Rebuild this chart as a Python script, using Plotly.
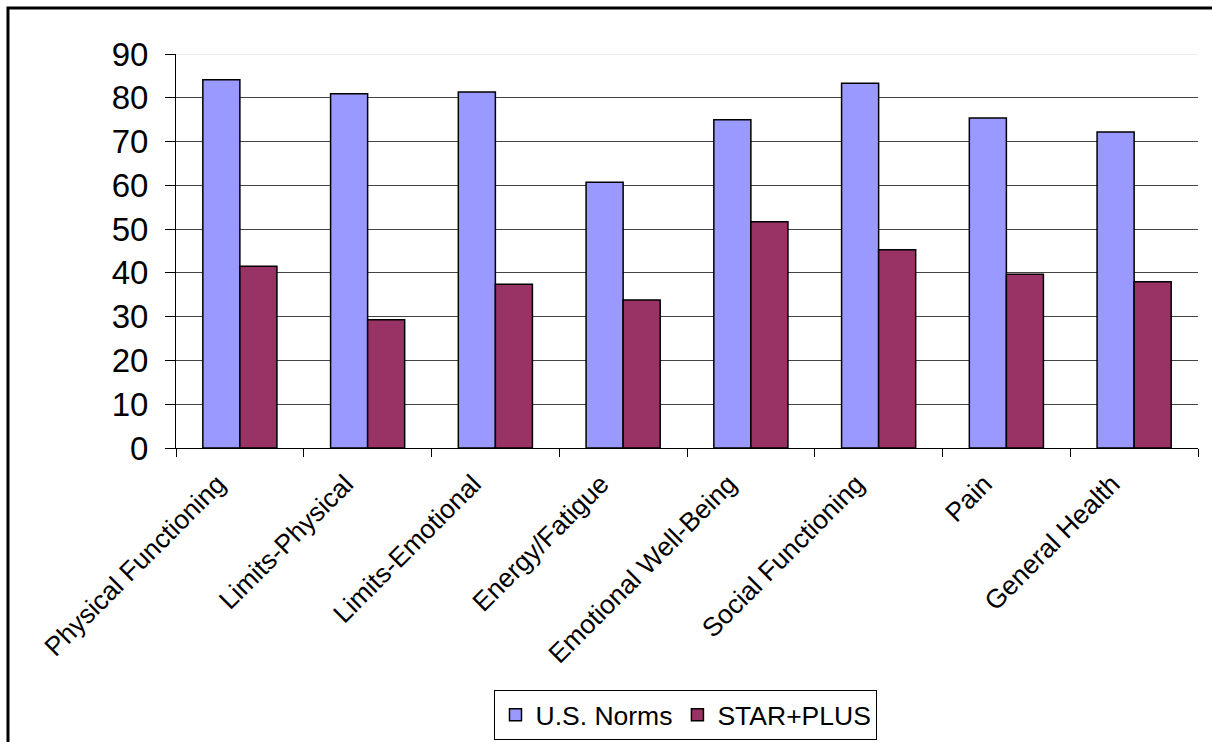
import plotly.graph_objects as go

categories = ["Physical Functioning", "Limits-Physical", "Limits-Emotional", "Energy/Fatigue",
              "Emotional Well-Being", "Social Functioning", "Pain", "General Health"]
us_norms = [84.1, 80.9, 81.3, 60.7, 75.0, 83.3, 75.4, 72.2]
star_plus = [41.5, 29.3, 37.4, 33.8, 51.7, 45.3, 39.7, 38.0]
y_ticks = [0, 10, 20, 30, 40, 50, 60, 70, 80, 90]

FONT = "Liberation Sans, Arial, sans-serif"

fig = go.Figure()
fig.add_trace(go.Bar(x=categories, y=us_norms, name="U.S. Norms",
                     marker=dict(color="#9999FF", line=dict(color="black", width=1.5))))
fig.add_trace(go.Bar(x=categories, y=star_plus, name="STAR+PLUS",
                     marker=dict(color="#993366", line=dict(color="black", width=1.5))))

fig.update_layout(
    width=1212, height=742,
    margin=dict(l=176, r=14, t=54, b=294, autoexpand=False),
    paper_bgcolor="white", plot_bgcolor="white",
    font=dict(family=FONT, color="black"),
    barmode="group", bargap=0.42, bargroupgap=0,
    showlegend=True,
    legend=dict(orientation="h", xref="container", yref="container",
                x=0.566, xanchor="center", y=1 - 690 / 742, yanchor="top",
                font=dict(size=26.5, family=FONT, color="black"),
                bordercolor="black", borderwidth=1, bgcolor="white",
                traceorder="normal"),
    xaxis=dict(tickangle=-45, tickfont=dict(size=26.5, family=FONT, color="black"),
               showline=True, linecolor="black", linewidth=1,
               ticks="outside", tickson="boundaries", ticklen=8, tickcolor="black",
               showgrid=False, automargin=False,
               ticklabelshift=-22, ticklabelstandoff=9),
    yaxis=dict(range=[0, 90], tickvals=y_ticks, tickfont=dict(size=33, family=FONT, color="black"),
               showline=True, linecolor="black", linewidth=1,
               ticks="outside", ticklen=10, tickcolor="black",
               showgrid=True, gridcolor="#444444", gridwidth=1, zeroline=False,
               automargin=False, ticklabelstandoff=10),
    shapes=[
        dict(type="line", xref="paper", yref="y", x0=0, x1=1, y0=90, y1=90,
             line=dict(color="#E6E6E6", width=1.5), layer="above"),
        dict(type="rect", xref="paper", yref="paper", x0=-0.1644, x1=1.5, y0=-2, y1=1.1168,
             line=dict(color="black", width=3), fillcolor="rgba(0,0,0,0)", layer="below"),
    ],
)

fig.write_html("out.html")
